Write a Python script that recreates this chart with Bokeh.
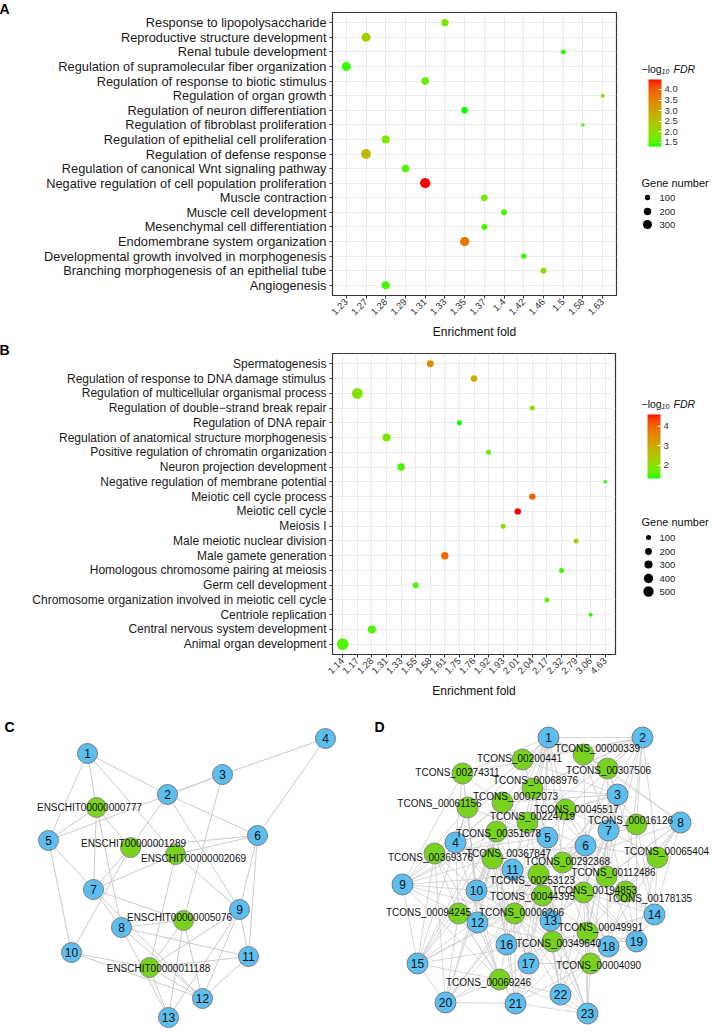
import math
from bokeh.plotting import figure
from bokeh.models import (FactorRange, Range1d, ColumnDataSource, LinearColorMapper,
                          ColorBar, FixedTicker, PrintfTickFormatter, Title, AllLabels)
from bokeh.layouts import row, column
from bokeh.embed import file_html
from bokeh.resources import INLINE
from bokeh.core.properties import value

FONT = "Liberation Sans"

# ---------------- Panel A data ----------------
a_terms = ["Response to lipopolysaccharide", "Reproductive structure development",
           "Renal tubule development", "Regulation of supramolecular fiber organization",
           "Regulation of response to biotic stimulus", "Regulation of organ growth",
           "Regulation of neuron differentiation", "Regulation of fibroblast proliferation",
           "Regulation of epithelial cell proliferation", "Regulation of defense response",
           "Regulation of canonical Wnt signaling pathway",
           "Negative regulation of cell population proliferation", "Muscle contraction",
           "Muscle cell development", "Mesenchymal cell differentiation",
           "Endomembrane system organization", "Developmental growth involved in morphogenesis",
           "Branching morphogenesis of an epithelial tube", "Angiogenesis"]
a_fold_ticks = ["1.23", "1.27", "1.28", "1.29", "1.31", "1.33", "1.35", "1.37", "1.4",
                "1.42", "1.46", "1.5", "1.58", "1.63"]
a_fold = ["1.33", "1.27", "1.5", "1.23", "1.31", "1.63", "1.35", "1.58", "1.28", "1.27",
          "1.29", "1.31", "1.37", "1.4", "1.37", "1.35", "1.42", "1.46", "1.28"]
a_logfdr = [1.8, 2.2, 1.35, 1.4, 1.65, 2.0, 1.31, 1.4, 1.8, 2.7, 1.5, 4.47, 1.75, 1.5,
            1.45, 3.7, 1.4, 2.0, 1.45]
a_genes = [190, 300, 80, 300, 215, 55, 145, 37, 240, 360, 215, 390, 165, 130, 130, 320,
           100, 130, 240]
a_legend_genes = [100, 200, 300]
a_cbar_ticks = [1.5, 2.0, 2.5, 3.0, 3.5, 4.0]

# ---------------- Panel B data ----------------
b_terms = ["Spermatogenesis", "Regulation of response to DNA damage stimulus",
           "Regulation of multicellular organismal process",
           "Regulation of double\u2212strand break repair", "Regulation of DNA repair",
           "Regulation of anatomical structure morphogenesis",
           "Positive regulation of chromatin organization", "Neuron projection development",
           "Negative regulation of membrane potential", "Meiotic cell cycle process",
           "Meiotic cell cycle", "Meiosis I", "Male meiotic nuclear division",
           "Male gamete generation", "Homologous chromosome pairing at meiosis",
           "Germ cell development", "Chromosome organization involved in meiotic cell cycle",
           "Centriole replication", "Central nervous system development",
           "Animal organ development"]
b_fold_ticks = ["1.14", "1.17", "1.28", "1.31", "1.33", "1.55", "1.58", "1.61", "1.75",
                "1.76", "1.92", "1.93", "2.01", "2.04", "2.17", "2.32", "2.79", "3.06", "4.63"]
b_fold = ["1.58", "1.76", "1.17", "2.04", "1.75", "1.31", "1.92", "1.33", "4.63", "2.04",
          "2.01", "1.93", "2.79", "1.61", "2.32", "1.55", "2.17", "3.06", "1.28", "1.14"]
b_logfdr = [3.4, 3.0, 1.9, 2.0, 1.33, 1.85, 1.6, 1.5, 1.4, 4.0, 4.6, 2.0, 2.4, 3.9, 1.4,
            1.55, 1.75, 1.4, 1.5, 1.55]
b_genes = [210, 180, 560, 100, 100, 290, 100, 250, 42, 180, 180, 100, 100, 250, 100, 150,
           100, 60, 290, 650]
b_legend_genes = [100, 200, 300, 400, 500]
b_cbar_ticks = [2, 3, 4]

# ---------------- Panel C network ----------------
c_nodes = ["1", "2", "3", "4", "5", "6", "7", "8", "9", "10", "11", "12", "13",
           "ENSCHIT00000000777", "ENSCHIT00000001289", "ENSCHIT00000002069",
           "ENSCHIT00000005076", "ENSCHIT00000011188"]
c_is_gene = [False] * 13 + [True] * 5
c_x = [87, 167, 222, 325, 48, 257, 93, 121, 239, 71, 248, 202, 168, 96, 130, 175, 183, 149]
c_y = [753, 794, 774, 738, 840, 835, 889, 927, 909, 952, 956, 998, 1017, 807, 847, 854, 920, 967]
c_lab_x = [89, 133, 193, 179, 158]
c_lab_y = [807, 843, 858, 917, 968]
c_edges = [("1", "5"), ("1", "ENSCHIT00000000777"), ("1", "2"), ("1", "ENSCHIT00000002069"),
           ("2", "3"), ("5", "3"), ("2", "6"), ("2", "9"), ("2", "ENSCHIT00000001289"),
           ("3", "4"), ("3", "ENSCHIT00000005076"), ("4", "6"), ("6", "ENSCHIT00000001289"),
           ("6", "ENSCHIT00000002069"), ("6", "9"), ("6", "11"), ("5", "ENSCHIT00000000777"),
           ("5", "7"), ("5", "10"), ("ENSCHIT00000000777", "7"), ("ENSCHIT00000000777", "8"),
           ("ENSCHIT00000000777", "ENSCHIT00000001289"), ("ENSCHIT00000001289", "7"),
           ("ENSCHIT00000001289", "10"), ("ENSCHIT00000002069", "7"),
           ("ENSCHIT00000002069", "9"), ("ENSCHIT00000002069", "ENSCHIT00000011188"),
           ("7", "8"), ("7", "ENSCHIT00000005076"), ("7", "12"), ("8", "ENSCHIT00000005076"),
           ("8", "11"), ("8", "13"), ("8", "12"), ("9", "11"), ("9", "12"), ("9", "13"),
           ("9", "ENSCHIT00000011188"), ("ENSCHIT00000005076", "ENSCHIT00000011188"),
           ("ENSCHIT00000005076", "12"), ("ENSCHIT00000005076", "13"),
           ("10", "ENSCHIT00000011188"), ("10", "12"), ("ENSCHIT00000011188", "11"),
           ("ENSCHIT00000011188", "13"), ("ENSCHIT00000011188", "12"), ("11", "12")]

# ---------------- Panel D network ----------------
d_blue = [str(i) for i in range(1, 24)]
d_blue_x = [548, 642, 617, 455, 547, 585, 608, 680, 402, 476, 512, 477, 550, 654, 417, 506,
            528, 608, 636, 445, 515, 560, 587]
d_blue_y = [737, 737, 794, 842, 837, 845, 830, 822, 884, 890, 869, 922, 920, 914, 963, 944,
            963, 946, 941, 1002, 1003, 994, 1013]
d_green = ["TCONS_00000339", "TCONS_00200441", "TCONS_00307506", "TCONS_00274311",
           "TCONS_00068976", "TCONS_00072073", "TCONS_00061156", "TCONS_00045517",
           "TCONS_00224719", "TCONS_00016126", "TCONS_00351678", "TCONS_00369376",
           "TCONS_00367847", "TCONS_00292368", "TCONS_00065404", "TCONS_00253123",
           "TCONS_00112486", "TCONS_00194853", "TCONS_00178135", "TCONS_00044395",
           "TCONS_00094245", "TCONS_00006206", "TCONS_00049991", "TCONS_00349640",
           "TCONS_00004090", "TCONS_00069246"]
d_green_x = [583, 522, 607, 462, 532, 502, 467, 565, 527, 636, 496, 434, 492, 562, 657, 538,
             606, 583, 625, 542, 458, 514, 587, 552, 590, 499]
d_green_y = [754, 759, 768, 773, 788, 802, 807, 809, 822, 824, 831, 853, 858, 862, 857, 874,
             876, 892, 891, 895, 913, 913, 932, 941, 963, 979]
d_lab_x = [597, 519, 608, 457, 535, 515, 439, 576, 532, 630, 498, 430, 508, 567, 666, 532,
           613, 594, 649, 532, 428, 521, 600, 558, 598, 488]
d_lab_y = [748, 758, 770, 772, 780, 796, 803, 809, 816, 820, 833, 857, 853, 861, 851, 880,
           872, 890, 898, 896, 912, 912, 927, 943, 965, 982]
# green partners of every blue node (indices into d_green)
d_adj = {
    "1": [0, 1, 2, 3, 4, 5, 6, 7, 8, 10, 11, 12, 13, 15, 19, 21],
    "2": [0, 1, 2, 3, 4, 5, 7, 8, 9, 13, 14, 16, 17, 18],
    "3": [0, 1, 2, 4, 5, 7, 8, 9, 13, 15, 16, 17, 19, 22],
    "4": [3, 5, 6, 8, 10, 11, 12, 15, 19, 20, 21, 23, 25],
    "5": [1, 3, 4, 5, 6, 7, 8, 10, 11, 12, 13, 15, 16, 19, 20, 21, 22, 23],
    "6": [0, 2, 4, 7, 8, 9, 12, 13, 14, 15, 16, 17, 18, 19, 22, 23, 24],
    "7": [0, 2, 7, 9, 13, 14, 16, 17, 18, 22, 24],
    "8": [0, 2, 7, 9, 13, 14, 16, 17, 18, 22, 24],
    "9": [3, 5, 6, 8, 10, 11, 12, 15, 19, 20, 21, 25],
    "10": [3, 5, 6, 10, 11, 12, 15, 19, 20, 21, 23, 25],
    "11": [4, 5, 8, 10, 12, 13, 15, 17, 19, 21, 23],
    "12": [6, 10, 11, 12, 15, 19, 20, 21, 23, 25],
    "13": [7, 8, 12, 13, 15, 16, 17, 19, 21, 22, 23, 24],
    "14": [2, 7, 9, 13, 14, 16, 17, 18, 22, 23, 24],
    "15": [5, 6, 10, 11, 12, 15, 19, 20, 21, 23, 25],
    "16": [10, 12, 15, 19, 20, 21, 23, 25],
    "17": [12, 15, 19, 21, 23, 24, 25],
    "18": [13, 16, 17, 18, 19, 22, 23, 24],
    "19": [9, 13, 14, 16, 17, 18, 22, 23, 24],
    "20": [10, 11, 12, 15, 19, 20, 21, 23, 25],
    "21": [10, 12, 15, 19, 20, 21, 22, 23, 24, 25],
    "22": [13, 15, 17, 19, 21, 22, 23, 24, 25],
    "23": [15, 17, 19, 21, 22, 23, 24, 25],
}
d_blue_edges = [("1", "2"), ("9", "15"), ("15", "20"), ("20", "21"), ("22", "23"),
                ("21", "23"), ("14", "19"), ("8", "14")]
d_green_edges = [(3, 6), (0, 2), (11, 20), (20, 25), (22, 24), (14, 18), (1, 4), (10, 12)]

# ---------------- helpers ----------------
WHITE = (0.95047, 1.0, 1.08883)


def _lin(c):
    c = c / 255.0
    return c / 12.92 if c <= 0.04045 else ((c + 0.055) / 1.055) ** 2.4


def _gam(c):
    c = max(0.0, min(1.0, c))
    c = 12.92 * c if c <= 0.0031308 else 1.055 * c ** (1 / 2.4) - 0.055
    return int(min(255, max(0, round(c * 255))))


def rgb2lab(rgb):
    r, g, b = (_lin(v) for v in rgb)
    X = 0.4124564 * r + 0.3575761 * g + 0.1804375 * b
    Y = 0.2126729 * r + 0.7151522 * g + 0.0721750 * b
    Z = 0.0193339 * r + 0.1191920 * g + 0.9503041 * b

    def f(t):
        return t ** (1 / 3) if t > 216 / 24389 else (24389 / 27 * t + 16) / 116
    fx, fy, fz = f(X / WHITE[0]), f(Y / WHITE[1]), f(Z / WHITE[2])
    return (116 * fy - 16, 500 * (fx - fy), 200 * (fy - fz))


def lab2hex(lab):
    L, a, b = lab
    fy = (L + 16) / 116
    fx = fy + a / 500
    fz = fy - b / 200

    def finv(t):
        return t ** 3 if t ** 3 > 216 / 24389 else (116 * t - 16) / (24389 / 27)
    X, Y, Z = finv(fx) * WHITE[0], finv(fy) * WHITE[1], finv(fz) * WHITE[2]
    r = 3.2404542 * X - 1.5371385 * Y - 0.4985314 * Z
    g = -0.9692660 * X + 1.8760108 * Y + 0.0415560 * Z
    bb = 0.0556434 * X - 0.2040259 * Y + 1.0572252 * Z
    return "#%02x%02x%02x" % (_gam(r), _gam(g), _gam(bb))


def lab_palette(c0, c1, n=256):
    l0, l1 = rgb2lab(c0), rgb2lab(c1)
    out = []
    for i in range(n):
        t = i / (n - 1)
        out.append(lab2hex(tuple(l0[k] + (l1[k] - l0[k]) * t for k in range(3))))
    return out


PAL = lab_palette((0, 255, 0), (255, 0, 0))


def size_a(n):
    return 0.25 + 0.505 * math.sqrt(n)


def size_b(n):
    return 0.71 + 0.429 * math.sqrt(n)


def make_letter(letter, valign, standoff):
    kw = dict(text=letter, align="left", vertical_align=valign, offset=4 - 332 - 5,
              text_font=FONT, text_font_size="14px", text_font_style="bold",
              text_color="#000000")
    try:
        return Title(standoff=standoff, **kw)
    except Exception:
        return Title(standoff=0, **kw)


def dot_panel(terms, ticks, folds, vals, genes, size_fn, mapper, h, top, bottom, right,
              font_px, letter, valign, standoff):
    p = figure(width=622, height=h,
               x_range=FactorRange(factors=ticks, range_padding=0.2, range_padding_units="absolute"),
               y_range=FactorRange(factors=terms[::-1], range_padding=0.2, range_padding_units="absolute"),
               output_backend="svg", toolbar_location=None, title=None,
               min_border_left=332, min_border_right=right, min_border_top=top,
               min_border_bottom=bottom)
    p.add_layout(make_letter(letter, valign, standoff), "above")
    src = ColumnDataSource(dict(term=terms, fold=folds, v=vals, genes=genes,
                                size=[size_fn(g) for g in genes]))
    p.scatter(x="fold", y="term", size="size", source=src,
              fill_color={"field": "v", "transform": mapper}, line_color=None)
    p.outline_line_color = "#333333"
    p.outline_line_width = 1.2
    p.grid.grid_line_color = "#EBEBEB"
    p.grid.grid_line_width = 1
    p.axis.axis_line_color = None
    p.axis.major_tick_line_color = "#333333"
    p.axis.major_tick_out = 3
    p.axis.major_tick_in = 0
    p.axis.minor_tick_line_color = None
    p.yaxis.major_label_text_font_size = font_px
    p.yaxis.major_label_text_color = "#1a1a1a"
    p.yaxis.major_label_text_font = FONT
    p.yaxis.major_label_standoff = 3
    p.xaxis.major_label_orientation = math.pi / 4
    p.xaxis.major_label_text_font_size = "9.5px"
    p.xaxis.major_label_text_color = "#333333"
    p.xaxis.major_label_text_font = FONT
    p.xaxis.major_label_standoff = 2
    p.xaxis.axis_label = "Enrichment fold"
    p.xaxis.axis_label_text_font_style = "normal"
    p.xaxis.axis_label_text_font_size = "12px"
    p.xaxis.axis_label_text_font = FONT
    p.xaxis.axis_label_text_color = "#111111"
    p.xaxis.axis_label_standoff = 4
    return p


def legend_panel(f_top, f_bot, h, mapper, ticks, fmt, bar_left, bar_top, bar_h, title_y,
                 gn_title_y, gn_breaks, gn_y, size_fn, dot_x, lab_x):
    # the frame of this figure is aligned with the frame of its row neighbour
    lf = figure(width=94, height=h, x_range=Range1d(622, 716), y_range=Range1d(f_bot, f_top),
                output_backend="svg", toolbar_location=None, title=None, min_border=0,
                x_axis_location=None, y_axis_location=None, outline_line_color=None)
    lf.xgrid.visible = False
    lf.ygrid.visible = False
    cb = ColorBar(color_mapper=mapper, ticker=FixedTicker(ticks=ticks),
                  formatter=PrintfTickFormatter(format=fmt), width=13, height=bar_h,
                  location=(bar_left - 622, f_bot - (bar_top + bar_h)), padding=0,
                  major_label_text_font_size="9.5px", major_label_text_color="#333333",
                  major_label_text_font=FONT, major_tick_line_color="#ffffff",
                  major_tick_in=3, major_tick_out=0, label_standoff=3,
                  major_label_policy=AllLabels(),
                  bar_line_color=None, border_line_color=None, background_fill_color=None,
                  title=None)
    lf.add_layout(cb)
    lf.text(x=[641], y=[title_y], text=["\u2212log"], text_font=value(FONT),
            text_font_size="10.5px", text_baseline="middle", text_align="left",
            text_color="#111111")
    lf.text(x=[661], y=[title_y + 3], text=["10"], text_font=value(FONT),
            text_font_size="7px", text_font_style="italic", text_baseline="middle",
            text_align="left", text_color="#111111")
    lf.text(x=[673], y=[title_y], text=["FDR"], text_font=value(FONT),
            text_font_size="10.5px", text_font_style="italic", text_baseline="middle",
            text_align="left", text_color="#111111")
    lf.text(x=[641], y=[gn_title_y], text=["Gene number"], text_font=value(FONT),
            text_font_size="11px", text_baseline="middle", text_align="left",
            text_color="#111111")
    lsrc = ColumnDataSource(dict(x=[dot_x] * len(gn_breaks), y=gn_y,
                                 s=[size_fn(g) for g in gn_breaks],
                                 lx=[lab_x] * len(gn_breaks),
                                 t=[str(g) for g in gn_breaks]))
    lf.scatter(x="x", y="y", size="s", source=lsrc, fill_color="#000000", line_color=None)
    lf.text(x="lx", y="y", text="t", source=lsrc, text_font=value(FONT),
            text_font_size="9.5px", text_baseline="middle", text_align="left",
            text_color="#222222")
    return lf


mapA = LinearColorMapper(palette=PAL, low=min(a_logfdr), high=max(a_logfdr))
mapB = LinearColorMapper(palette=PAL, low=min(b_logfdr), high=max(b_logfdr))

# row A: page y 0..345, frame 12..295
pA = dot_panel(a_terms, a_fold_ticks, a_fold, a_logfdr, a_genes, size_a, mapA, 345, 12, 50, 6,
               "12.8px", "A", "top", -12)
lA = legend_panel(12, 295, 345, mapA, a_cbar_ticks, "%.1f", 648, 79, 67, 68, 182,
                  a_legend_genes, [197, 211, 224], size_a, 647, 659)
# row B: page y 345..705, frame 353..654
pB = dot_panel(b_terms, b_fold_ticks, b_fold, b_logfdr, b_genes, size_b, mapB, 360, 8, 51, 7,
               "12px", "B", "top", -12)
lB = legend_panel(353, 654, 360, mapB, b_cbar_ticks, "%d", 647, 414, 64, 403, 521,
                  b_legend_genes, [537, 551, 564, 578, 591], size_b, 648, 659)

# ---------------- networks (page y 705..1029) ----------------
net = figure(width=716, height=324, x_range=Range1d(0, 716), y_range=Range1d(1029, 705),
             output_backend="svg", toolbar_location=None, title=None, min_border=0,
             x_axis_location=None, y_axis_location=None, outline_line_color=None)
net.xgrid.visible = False
net.ygrid.visible = False

BLUE = "#5BBEEE"
GREEN = "#78D21E"
EDGE = "#CBCBCB"

c_pos = {n: (x, y) for n, x, y in zip(c_nodes, c_x, c_y)}
ce = dict(x0=[c_pos[a][0] for a, b in c_edges], y0=[c_pos[a][1] for a, b in c_edges],
          x1=[c_pos[b][0] for a, b in c_edges], y1=[c_pos[b][1] for a, b in c_edges])
net.segment(x0="x0", y0="y0", x1="x1", y1="y1", source=ColumnDataSource(ce),
            line_color=EDGE, line_width=1)

d_pos = {n: (x, y) for n, x, y in zip(d_blue, d_blue_x, d_blue_y)}
d_pos.update({n: (x, y) for n, x, y in zip(d_green, d_green_x, d_green_y)})
d_edges = ([(b, d_green[g]) for b, gl in d_adj.items() for g in gl] + d_blue_edges
           + [(d_green[a], d_green[b]) for a, b in d_green_edges])
de = dict(x0=[d_pos[a][0] for a, b in d_edges], y0=[d_pos[a][1] for a, b in d_edges],
          x1=[d_pos[b][0] for a, b in d_edges], y1=[d_pos[b][1] for a, b in d_edges])
net.segment(x0="x0", y0="y0", x1="x1", y1="y1", source=ColumnDataSource(de),
            line_color=EDGE, line_width=0.8)

# nodes C
cb_src = ColumnDataSource(dict(x=[x for x, g in zip(c_x, c_is_gene) if not g],
                               y=[y for y, g in zip(c_y, c_is_gene) if not g],
                               t=[n for n, g in zip(c_nodes, c_is_gene) if not g]))
cg_src = ColumnDataSource(dict(x=[x for x, g in zip(c_x, c_is_gene) if g],
                               y=[y for y, g in zip(c_y, c_is_gene) if g],
                               t=[n for n, g in zip(c_nodes, c_is_gene) if g],
                               lx=c_lab_x, ly=c_lab_y))
net.scatter(x="x", y="y", size=20, source=cg_src, fill_color=GREEN, line_color="#8a8a8a",
            line_width=1)
net.scatter(x="x", y="y", size=20, source=cb_src, fill_color=BLUE, line_color="#7a7a7a",
            line_width=1)
net.text(x="x", y="y", text="t", source=cb_src, text_font=value(FONT), text_font_size="12px",
         text_align="center", text_baseline="middle", text_color="#111111")
net.text(x="lx", y="ly", text="t", source=cg_src, text_font=value(FONT),
         text_font_size="10px", text_align="center", text_baseline="middle",
         text_color="#111111")

# nodes D
db_src = ColumnDataSource(dict(x=d_blue_x, y=d_blue_y, t=d_blue))
dg_src = ColumnDataSource(dict(x=d_green_x, y=d_green_y, t=d_green, lx=d_lab_x, ly=d_lab_y))
net.scatter(x="x", y="y", size=21, source=dg_src, fill_color=GREEN, line_color="#8a8a8a",
            line_width=1)
net.scatter(x="x", y="y", size=21, source=db_src, fill_color=BLUE, line_color="#7a7a7a",
            line_width=1)
net.text(x="x", y="y", text="t", source=db_src, text_font=value(FONT), text_font_size="12px",
         text_align="center", text_baseline="middle", text_color="#111111")
net.text(x="lx", y="ly", text="t", source=dg_src, text_font=value(FONT),
         text_font_size="10px", text_align="center", text_baseline="middle",
         text_color="#111111")

net.text(x=[4, 374], y=[726, 726], text=["C", "D"], text_font=value(FONT),
         text_font_size="14px", text_font_style="bold", text_baseline="alphabetic",
         text_align="left", text_color="#000000")

layout = column(row(pA, lA), row(pB, lB), net)
open("out.html", "w").write(file_html(layout, INLINE))
